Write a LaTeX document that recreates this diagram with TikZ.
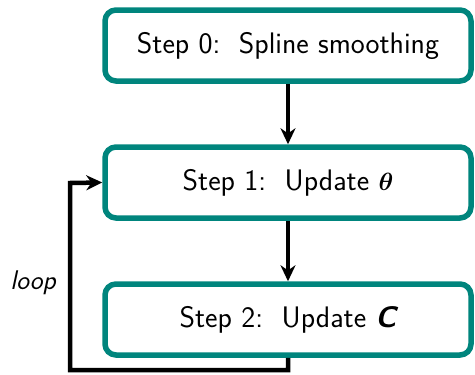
\documentclass[tikz,border=0pt]{standalone}
\usepackage{fontspec}
\usepackage{amsmath,amssymb}
\usetikzlibrary{arrows.meta}
\renewcommand{\familydefault}{\sfdefault}
\definecolor{tealbox}{RGB}{0,133,125}
\begin{document}
\begin{tikzpicture}[x=1pt,y=-1pt,
  stepbox/.style={draw=tealbox, line width=5.5pt, rounded corners=11pt, fill=white,
    minimum width=366pt, minimum height=71pt, inner sep=0pt,
    font=\fontsize{29.7}{34}\selectfont\sffamily},
  flow/.style={line width=4.5pt, -{Stealth[length=16pt,width=15pt]}}]
\useasboundingbox (0,0) rectangle (475,375);
\node[stepbox] (b0) at (288,45.5) {Step 0:\ \ Spline smoothing};
\node[stepbox] (b1) at (288,182.5) {Step 1:\ \ Update $\boldsymbol{\theta}$};
\node[stepbox] (b2) at (288,319.5) {Step 2:\ \ Update {\bfseries\itshape C}};
\draw[flow] (b0) -- (b1);
\draw[flow] (b1) -- (b2);
\coordinate (c1) at (b2.south |- 0,370);
\coordinate (c2) at (70,370);
\coordinate (c3) at (70,183);
\draw[flow, line join=miter] (b2.south) -- (c1) -- (c2) -- (c3) -- (b1.west);
\node[font=\fontsize{27}{32}\selectfont\sffamily\itshape] (lp) at (33,283) {loop};
\end{tikzpicture}
\end{document}
